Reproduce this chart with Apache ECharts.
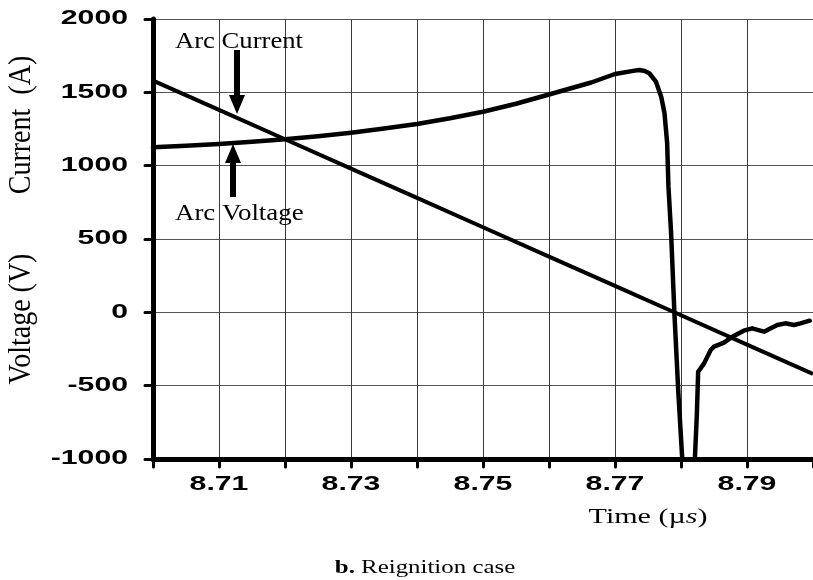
<!DOCTYPE html>
<html>
<head>
<meta charset="utf-8">
<script src="https://cdn.jsdelivr.net/npm/echarts@6/dist/echarts.min.js"></script>
<style>
  html, body { margin: 0; padding: 0; background: #ffffff; }
  #chart { width: 813px; height: 580px; }
</style>
</head>
<body>
<div id="chart"></div>
<script>
// Arc voltage (V) versus time (µs)
const voltageTime = [
  8.700, 8.705, 8.710, 8.715, 8.720, 8.725, 8.730, 8.735, 8.740, 8.745,
  8.750, 8.755, 8.760, 8.7664, 8.770, 8.7730, 8.7737, 8.7745, 8.7752, 8.7762,
  8.7770, 8.7775, 8.7779, 8.7781, 8.7785, 8.7790, 8.7796, 8.7802, 8.7806, 8.7820,
  8.7821, 8.7824, 8.7826, 8.7835, 8.7845, 8.7850, 8.7865, 8.7880, 8.7895, 8.7908,
  8.7916, 8.7926, 8.7936, 8.7946, 8.7958, 8.7971, 8.7981, 8.7995
];
const voltageValue = [
  1125, 1136, 1148, 1163, 1180, 1201, 1225, 1253, 1284, 1323,
  1368, 1422, 1485, 1567, 1625, 1648, 1652, 1645, 1630, 1573,
  1470, 1357, 1155, 855, 540, -5, -550, -1007, -1100, -1100,
  -1000, -700, -405, -348, -257, -234, -207, -161, -125, -109,
  -120, -132, -109, -86, -75, -86, -75, -57
];

// Arc current (A) versus time (µs)
const currentTime = [8.70, 8.71, 8.72, 8.73, 8.74, 8.75, 8.76, 8.77, 8.78, 8.79, 8.80];
const currentValue = [1580, 1380, 1180, 980, 780, 580, 380, 180, -20, -220, -420];

// Axis ticks and the tick labels written under / beside them
const yTicks = [-1000, -500, 0, 500, 1000, 1500, 2000];
const xLabelled = ['8.71', '8.73', '8.75', '8.77', '8.79'];

const pairs = (xs, ys) => xs.map((x, i) => [x, ys[i]]);

const serif = '"Liberation Serif", "Times New Roman", serif';
const tickFont = 'bold 19.5px "Liberation Sans", Arial, Helvetica, sans-serif';
const tickStretch = 1.55;

const chart = echarts.init(document.getElementById('chart'));

chart.setOption({
  animation: false,
  backgroundColor: '#ffffff',
  grid: { left: 153, top: 19, width: 663, bottom: 121, containLabel: false },
  xAxis: {
    type: 'value',
    min: 8.70,
    max: 8.80,
    interval: 0.01,
    axisLine: { show: true, onZero: false, lineStyle: { color: '#000', width: 5 } },
    axisTick: { show: true, inside: false, length: 8, lineStyle: { color: '#000', width: 3, cap: 'round' } },
    axisLabel: { show: false },
    splitLine: { show: true, lineStyle: { color: '#3a3a3a', width: 1 } }
  },
  yAxis: {
    type: 'value',
    min: yTicks[0],
    max: yTicks[yTicks.length - 1],
    interval: 500,
    axisLine: { show: true, onZero: false, lineStyle: { color: '#000', width: 5 } },
    axisTick: { show: true, inside: false, length: 8, lineStyle: { color: '#000', width: 3, cap: 'round' } },
    axisLabel: { show: false },
    splitLine: { show: true, lineStyle: { color: '#555', width: 1 } }
  },
  series: [
    {
      name: 'Arc Voltage',
      type: 'line',
      data: pairs(voltageTime, voltageValue),
      showSymbol: false,
      symbol: 'none',
      clip: true,
      lineStyle: { color: '#000', width: 4.5, join: 'round', cap: 'round' },
      z: 3
    },
    {
      name: 'Arc Current',
      type: 'line',
      data: pairs(currentTime, currentValue),
      showSymbol: false,
      symbol: 'none',
      clip: true,
      lineStyle: { color: '#000', width: 4, join: 'round' },
      z: 3
    }
  ]
});

// Wide bold tick labels, placed at the axis scale positions
const axisX = chart.convertToPixel({ xAxisIndex: 0 }, 8.70);
const axisY = chart.convertToPixel({ yAxisIndex: 0 }, yTicks[0]);

const tickLabels = [];
xLabelled.forEach(s => {
  tickLabels.push({
    type: 'text',
    x: chart.convertToPixel({ xAxisIndex: 0 }, parseFloat(s)),
    y: axisY + 26,
    scaleX: tickStretch,
    style: { text: s, font: tickFont, fill: '#000', textAlign: 'center', textVerticalAlign: 'middle' }
  });
});
yTicks.forEach(v => {
  tickLabels.push({
    type: 'text',
    x: axisX - 25,
    y: chart.convertToPixel({ yAxisIndex: 0 }, v),
    scaleX: tickStretch,
    style: { text: String(v), font: tickFont, fill: '#000', textAlign: 'right', textVerticalAlign: 'middle' }
  });
});

const titles = [
  // vertical axis titles
  {
    type: 'text', x: 22, y: 125, rotation: Math.PI / 2, scaleY: 1.15,
    style: { text: 'Current  (A)', font: '28px ' + serif, fill: '#000', textAlign: 'center', textVerticalAlign: 'middle' }
  },
  {
    type: 'text', x: 22, y: 319, rotation: Math.PI / 2, scaleY: 1.15,
    style: { text: 'Voltage (V)', font: '28px ' + serif, fill: '#000', textAlign: 'center', textVerticalAlign: 'middle' }
  },
  // horizontal axis title
  {
    type: 'text', x: 648, y: 517, scaleX: 1.43,
    style: {
      text: 'Time (µ{i|s})',
      font: '21px ' + serif, fill: '#000', textAlign: 'center', textVerticalAlign: 'middle',
      rich: { i: { fontFamily: serif, fontSize: 21, fontStyle: 'italic', fill: '#000' } }
    }
  },
  // caption
  {
    type: 'text', x: 425, y: 568, scaleX: 1.31,
    style: {
      text: '{b|b.} Reignition case',
      font: '19px ' + serif, fill: '#000', textAlign: 'center', textVerticalAlign: 'middle',
      rich: { b: { fontFamily: serif, fontSize: 19, fontWeight: 'bold', fill: '#000' } }
    }
  },
  // series annotations
  {
    type: 'text', x: 175, y: 42, scaleX: 1.11,
    style: { text: 'Arc Current', font: '24px ' + serif, fill: '#000', textAlign: 'left', textVerticalAlign: 'middle' }
  },
  {
    type: 'text', x: 175, y: 214, scaleX: 1.12,
    style: { text: 'Arc Voltage', font: '24px ' + serif, fill: '#000', textAlign: 'left', textVerticalAlign: 'middle' }
  },
  // arrow pointing down to the current trace
  { type: 'rect', shape: { x: 234, y: 50, width: 6, height: 47 }, style: { fill: '#000' }, z: 10 },
  { type: 'polygon', shape: { points: [[229, 95], [245, 95], [237, 114]] }, style: { fill: '#000' }, z: 10 },
  // arrow pointing up to the voltage trace
  { type: 'rect', shape: { x: 230, y: 161, width: 6, height: 36 }, style: { fill: '#000' }, z: 10 },
  { type: 'polygon', shape: { points: [[225, 163], [241, 163], [233, 144]] }, style: { fill: '#000' }, z: 10 }
];

chart.setOption({ graphic: titles.concat(tickLabels) });
</script>
</body>
</html>
